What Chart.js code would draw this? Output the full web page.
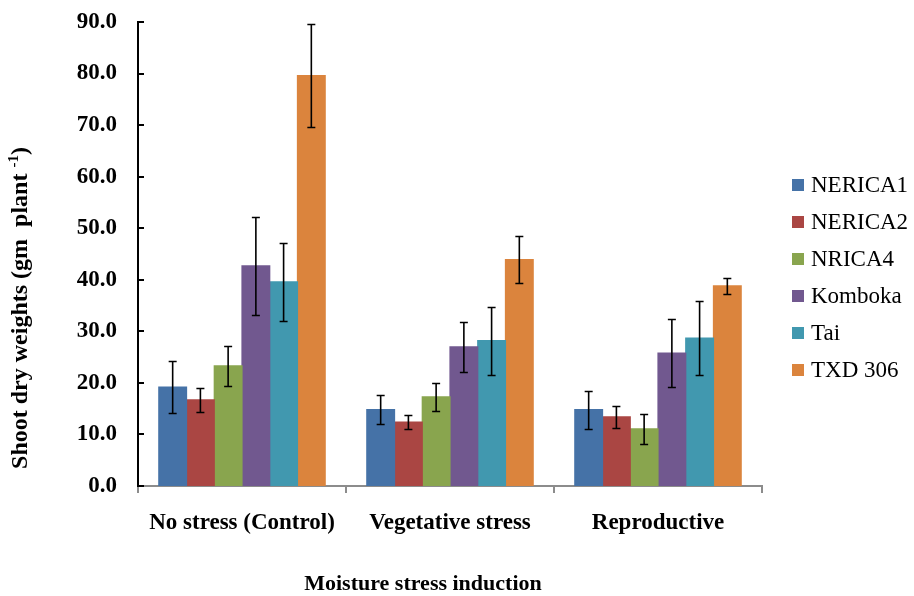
<!DOCTYPE html>
<html>
<head>
<meta charset="utf-8">
<script src="https://cdn.jsdelivr.net/npm/chart.js@4"></script>
<style>
  html, body { margin: 0; padding: 0; background: #fff; }
  #wrap { width: 914px; height: 596px; }
</style>
</head>
<body>
<div id="wrap"><canvas id="shootChart" width="914" height="596"></canvas></div>
<script>
// Shoot dry weight by moisture stress stage
const stages = ['No stress (Control)', 'Vegetative stress', 'Reproductive'];
const varieties = ['NERICA1', 'NERICA2', 'NRICA4', 'Komboka', 'Tai', 'TXD 306'];
const colors = ['#4572A7', '#AA4643', '#89A54E', '#71588F', '#4198AF', '#DB843D'];

const nerica1 = [19.2, 14.8, 14.8];
const nerica2 = [16.7, 12.4, 13.4];
const nrica4 = [23.3, 17.3, 11.1];
const komboka = [42.7, 27.0, 25.8];
const tai = [39.6, 28.2, 28.7];
const txd306 = [79.6, 43.9, 38.8];

// error bar half-lengths
const errNerica1 = [5.0, 2.8, 3.7];
const errNerica2 = [2.4, 1.3, 2.2];
const errNrica4 = [3.9, 2.7, 2.9];
const errKomboka = [9.5, 4.9, 6.6];
const errTai = [7.6, 6.6, 7.2];
const errTxd306 = [10.0, 4.5, 1.6];

const yTicks = [0, 10, 20, 30, 40, 50, 60, 70, 80, 90];

const values = [nerica1, nerica2, nrica4, komboka, tai, txd306];
const errors = [errNerica1, errNerica2, errNrica4, errKomboka, errTai, errTxd306];

const serif = "'Liberation Serif', 'Times New Roman', serif";

// error bars from each bar's own x and the y scale
const errorBars = {
    id: 'errorBars',
    afterDatasetsDraw(chart) {
        const ctx = chart.ctx;
        const yScale = chart.scales.y;
        ctx.save();
        ctx.strokeStyle = '#000';
        ctx.lineWidth = 1.6;
        chart.data.datasets.forEach(function(ds, i) {
            chart.getDatasetMeta(i).data.forEach(function(bar, j) {
                const v = ds.data[j];
                const e = ds.errors[j];
                const top = Math.round(yScale.getPixelForValue(v + e)) + 0.5;
                const bot = Math.round(yScale.getPixelForValue(v - e)) + 0.5;
                const x = bar.x;
                ctx.beginPath();
                ctx.moveTo(x, top); ctx.lineTo(x, bot);
                ctx.moveTo(x - 4, top); ctx.lineTo(x + 4, top);
                ctx.moveTo(x - 4, bot); ctx.lineTo(x + 4, bot);
                ctx.stroke();
            });
        });
        ctx.restore();
    }
};

// y tick marks point inwards, axis titles and legend drawn by hand
const decorations = {
    id: 'decorations',
    afterDraw(chart) {
        const ctx = chart.ctx;
        const area = chart.chartArea;
        const yScale = chart.scales.y;
        ctx.save();

        ctx.strokeStyle = '#000';
        ctx.lineWidth = 2;
        yScale.ticks.forEach(function(t) {
            const y = Math.round(yScale.getPixelForValue(t.value));
            ctx.beginPath();
            ctx.moveTo(area.left, y);
            ctx.lineTo(area.left + 6, y);
            ctx.stroke();
        });

        ctx.fillStyle = '#000';
        ctx.textBaseline = 'middle';

        // x title
        ctx.font = 'bold 22px ' + serif;
        ctx.textAlign = 'center';
        ctx.fillText('Moisture stress induction', 423, 584);

        // y title with superscript
        ctx.translate(21, 308);
        ctx.rotate(-Math.PI / 2);
        const main = 'Shoot dry weights (gm  plant ';
        const sup = '-1';
        const tail = ')';
        const bigFont = 'bold 24px ' + serif;
        const smallFont = 'bold 15px ' + serif;
        ctx.font = bigFont;
        const wMain = ctx.measureText(main).width;
        const wTail = ctx.measureText(tail).width;
        ctx.font = smallFont;
        const wSup = ctx.measureText(sup).width;
        let x = -(wMain + wSup + wTail) / 2;
        ctx.textAlign = 'left';
        ctx.font = bigFont;
        ctx.fillText(main, x, 0);
        x += wMain;
        ctx.font = smallFont;
        ctx.fillText(sup, x, -7);
        x += wSup;
        ctx.font = bigFont;
        ctx.fillText(tail, x, 0);
        ctx.setTransform(1, 0, 0, 1, 0, 0);

        // legend
        const lx = area.right + 30;
        const rowGap = 37;
        const ly = 185;
        ctx.font = '23px ' + serif;
        ctx.textAlign = 'left';
        chart.data.datasets.forEach(function(ds, i) {
            const cy = ly + i * rowGap;
            ctx.fillStyle = ds.backgroundColor;
            ctx.fillRect(lx, cy - 6, 12, 12);
            ctx.fillStyle = '#000';
            ctx.fillText(ds.label, lx + 19, cy + 1);
        });
        ctx.restore();
    }
};

new Chart(document.getElementById('shootChart').getContext('2d'), {
    type: 'bar',
    data: {
        labels: stages,
        datasets: varieties.map(function(name, i) {
            return {
                label: name,
                data: values[i],
                errors: errors[i],
                backgroundColor: colors[i],
                borderWidth: 0,
                inflateAmount: 0.6,
                categoryPercentage: 0.8,
                barPercentage: 1
            };
        })
    },
    options: {
        responsive: false,
        animation: false,
        layout: { padding: { top: 22, left: 0, right: 152, bottom: 0 } },
        plugins: {
            tooltip: { enabled: false },
            legend: { display: false }
        },
        scales: {
            x: {
                afterFit: function(scale) { scale.height = 110; },
                grid: {
                    offset: true,
                    drawOnChartArea: false,
                    drawTicks: true,
                    tickLength: 7,
                    color: '#8c8c8c',
                    lineWidth: 2
                },
                border: { color: '#8c8c8c', width: 2 },
                ticks: {
                    color: '#000',
                    padding: 16,
                    font: { family: serif, size: 23, weight: 'bold' }
                }
            },
            y: {
                min: 0,
                max: 90,
                afterFit: function(scale) {
                    scale.width = 138;
                    scale.paddingTop = 0;
                    scale.paddingBottom = 0;
                },
                afterBuildTicks: function(axis) {
                    axis.ticks = yTicks.map(function(v) { return { value: v }; });
                },
                grid: {
                    drawOnChartArea: false,
                    drawTicks: false
                },
                border: { color: '#000', width: 2 },
                ticks: {
                    color: '#000',
                    padding: 21,
                    callback: function(v) { return Number(v).toFixed(1); },
                    font: { family: serif, size: 23, weight: 'bold' }
                }
            }
        }
    },
    plugins: [errorBars, decorations]
});
</script>
</body>
</html>
